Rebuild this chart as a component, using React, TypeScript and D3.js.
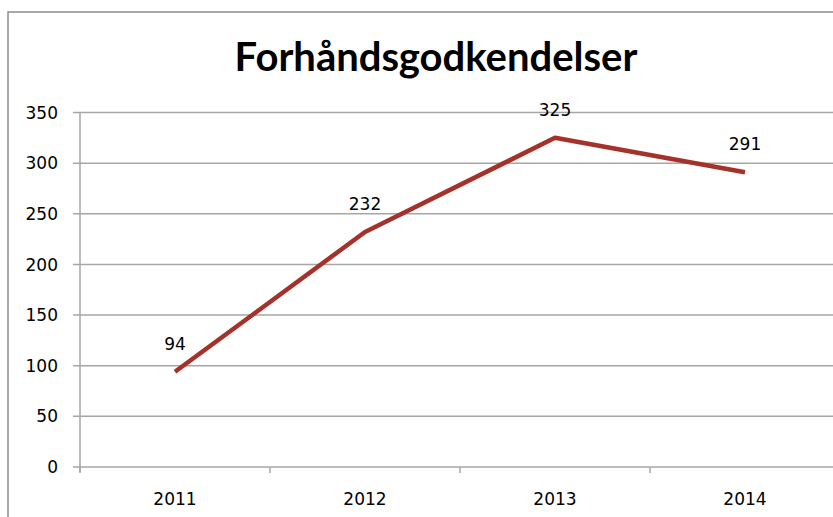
import React from "react";
import * as d3 from "d3";

const title = "Forhåndsgodkendelser";
const years = ["2011", "2012", "2013", "2014"];
const values = [94, 232, 325, 291];
const yTicks = [0, 50, 100, 150, 200, 250, 300, 350];

export default function App() {
  const W = 833;
  const H = 517;
  const left = 80;
  const right = 840;
  const top = 112.5;
  const bottom = 467;

  const x = d3.scaleBand<string>().domain(years).range([left, right]).padding(0);
  const y = d3.scaleLinear().domain([0, 350]).range([bottom, top]);
  const cx = (d: string) => (x(d) as number) + x.bandwidth() / 2;

  const line = d3
    .line<number>()
    .x((_, i) => cx(years[i]))
    .y((v) => y(v));

  const boundaries = years.map((d) => x(d) as number).concat([right]);
  const gridColor = "#a6a6a6";
  const font = "'DejaVu Sans', Verdana, sans-serif";

  return (
    <svg
      width={W}
      height={H}
      style={{ position: "absolute", left: 0, top: 0, background: "#fff" }}
    >
      <rect x={0} y={0} width={W} height={H} fill="#fff" />
      <rect x={8} y={12} width={W + 20} height={H + 20} fill="none" stroke="#8c8c8c" strokeWidth={1.5} />
      <text
        x={436}
        y={71}
        textAnchor="middle"
        fontFamily="Lato, 'Open Sans', sans-serif"
        fontWeight={700}
        fontSize={40}
        fill="#000"
      >
        {title}
      </text>
      {yTicks.map((t) => (
        <g key={t}>
          <line x1={73} x2={W} y1={y(t)} y2={y(t)} stroke={gridColor} strokeWidth={1.5} />
          <text
            x={58}
            y={y(t)}
            dy="0.36em"
            textAnchor="end"
            fontFamily={font}
            fontSize={17}
            fill="#000"
          >
            {t}
          </text>
        </g>
      ))}
      <line x1={left} x2={left} y1={top} y2={bottom + 5} stroke={gridColor} strokeWidth={1.5} />
      {boundaries.map((b, i) => (
        <line key={i} x1={b} x2={b} y1={bottom} y2={bottom + 6} stroke={gridColor} strokeWidth={1.5} />
      ))}
      {years.map((d) => (
        <text
          key={d}
          x={cx(d)}
          y={505}
          textAnchor="middle"
          fontFamily={font}
          fontSize={17}
          fill="#000"
        >
          {d}
        </text>
      ))}
      <path
        d={line(values) as string}
        fill="none"
        stroke="#a5322a"
        strokeWidth={4.5}
        strokeLinejoin="round"
      />
      {values.map((v, i) => (
        <text
          key={i}
          x={cx(years[i])}
          y={y(v) - 22}
          textAnchor="middle"
          fontFamily={font}
          fontSize={17}
          fill="#000"
        >
          {v}
        </text>
      ))}
    </svg>
  );
}
